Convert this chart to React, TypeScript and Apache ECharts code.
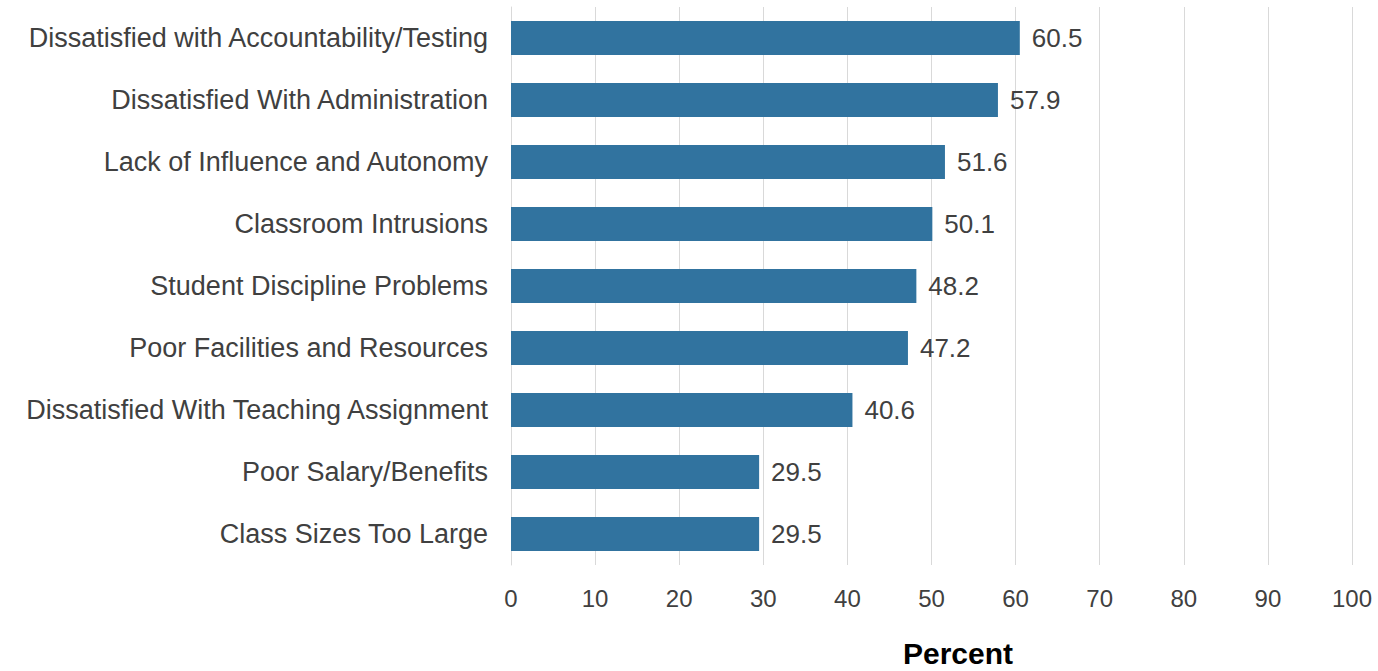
import React, { useEffect, useRef } from "react";
import * as echarts from "echarts";

const categories = [
  "Dissatisfied with Accountability/Testing",
  "Dissatisfied With Administration",
  "Lack of Influence and Autonomy",
  "Classroom Intrusions",
  "Student Discipline Problems",
  "Poor Facilities and Resources",
  "Dissatisfied With Teaching Assignment",
  "Poor Salary/Benefits",
  "Class Sizes Too Large",
];
const values = [60.5, 57.9, 51.6, 50.1, 48.2, 47.2, 40.6, 29.5, 29.5];
const axisTitle = "Percent";

export default function App() {
  const ref = useRef<HTMLDivElement>(null);
  useEffect(() => {
    const chart = echarts.init(ref.current!, null, { renderer: "svg" });
    const font = "Liberation Sans, Arial, sans-serif";
    chart.setOption({
      animation: false,
      grid: { left: 511, right: 26, top: 7, bottom: 106, containLabel: false },
      xAxis: {
        type: "value",
        min: 0,
        max: 100,
        interval: 10,
        axisLine: { show: false },
        axisTick: { show: false },
        splitLine: { show: true, lineStyle: { color: "#d9d9d9", width: 1 } },
        axisLabel: { color: "#404040", fontSize: 24, fontFamily: font, margin: 21 },
      },
      yAxis: {
        type: "category",
        inverse: true,
        data: categories,
        axisLine: { show: true, lineStyle: { color: "#d9d9d9", width: 1 } },
        axisTick: { show: false },
        axisLabel: { color: "#404040", fontSize: 27, fontFamily: font, margin: 23 },
      },
      graphic: [
        {
          type: "text",
          x: 903,
          y: 653,
          style: {
            text: axisTitle,
            fontSize: 30,
            fontWeight: "bold",
            fill: "#000",
            fontFamily: font,
            verticalAlign: "middle",
          },
        },
      ],
      series: [
        {
          type: "bar",
          data: values,
          barWidth: 34,
          itemStyle: { color: "#31739f" },
          label: {
            show: true,
            position: "right",
            distance: 12,
            color: "#404040",
            fontSize: 26,
            fontFamily: font,
            formatter: (p: any) => p.value.toFixed(1),
          },
        },
      ],
    });
    return () => chart.dispose();
  }, []);
  return (
    <div
      ref={ref}
      style={{ width: 1378, height: 671, position: "absolute", left: 0, top: 0, background: "#fff" }}
    />
  );
}
